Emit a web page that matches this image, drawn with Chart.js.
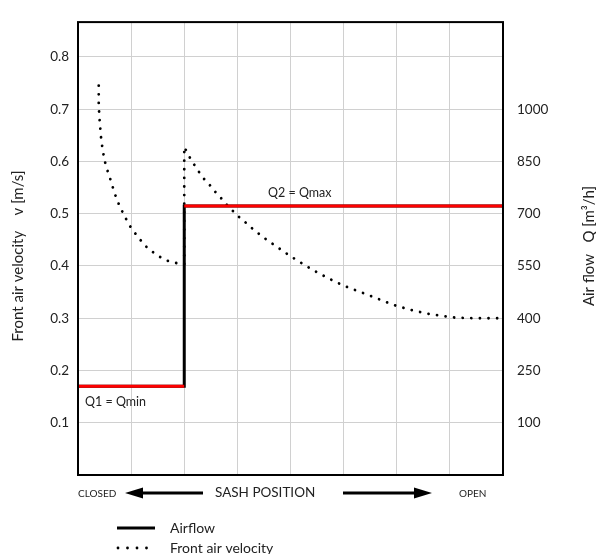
<!DOCTYPE html>
<html>
<head>
<meta charset="utf-8">
<script src="https://cdn.jsdelivr.net/npm/chart.js@4/dist/chart.umd.min.js"></script>
<style>
html,body{margin:0;padding:0;background:#fff;}
#wrap{width:596px;height:554px;position:relative;}
</style>
</head>
<body>
<div id="wrap"><canvas id="c" width="596" height="554"></canvas></div>
<script>
// Sash position scale (0 = closed, 8 = open)
const xTicks = [0,1,2,3,4,5,6,7,8];
// Left axis: front air velocity [m/s]
const velocityTicks = [0.1,0.2,0.3,0.4,0.5,0.6,0.7,0.8];
// Right axis: air flow [m3/h]
const airflowTicks = [100,250,400,550,700,850,1000];

// Front air velocity curve (sash position, v in m/s)
const velX = [0.39,0.39,0.40,0.41,0.44,0.49,0.53,0.58,0.63,0.68,0.74,0.81,0.88,0.96,1.05,1.15,1.26,1.39,1.53,1.68,1.83,1.95,2.0,2.0,
              2.09,2.18,2.27,2.37,2.48,2.59,2.70,2.81,2.92,3.05,3.18,3.30,3.50,3.71,3.98,4.20,4.41,4.70,5.01,5.50,5.95,6.30,6.61,7.11,7.50,7.98];
const velY = [0.745,0.707,0.690,0.674,0.639,0.607,0.590,0.575,0.559,0.542,0.525,0.509,0.495,0.479,0.466,0.453,0.439,0.428,0.418,0.410,0.406,0.404,0.403,0.628,
              0.610,0.595,0.581,0.567,0.555,0.541,0.529,0.516,0.505,0.492,0.481,0.470,0.454,0.439,0.420,0.406,0.393,0.377,0.362,0.343,0.325,0.315,0.308,0.301,0.300,0.300];

// Airflow step (sash position, Q in m3/h)
const flowX = [0,2,2,8];
const flowQ = [205,205,722,722];
// Q1 = Qmin and Q2 = Qmax levels
const q1X = [0,2], q1Q = [205,205];
const q2X = [2,8], q2Q = [722,722];

const FONT = 'Lato, "Liberation Sans", sans-serif';
const vMax = 0.8667;
const qOf = v => v*1500 - 50;

function pts(xs, ys){ return xs.map((x,i)=>({x:x, y:ys[i]})); }

const annot = {
  id:'annot',
  afterDraw(chart){
    const ctx = chart.ctx, a = chart.chartArea;
    ctx.save();
    // plot box
    ctx.strokeStyle = '#000'; ctx.lineWidth = 2;
    ctx.strokeRect(a.left, a.top, a.right-a.left, a.bottom-a.top);
    ctx.fillStyle = '#222';
    ctx.textBaseline = 'middle';
    // axis titles
    ctx.font = '15px ' + FONT;
    ctx.textAlign = 'center';
    ctx.save(); ctx.translate(18, 256); ctx.rotate(-Math.PI/2);
    ctx.fillText('Front air velocity    v [m/s]', 0, 0); ctx.restore();
    ctx.save(); ctx.translate(589, 246); ctx.rotate(-Math.PI/2);
    ctx.fillText('Air flow   Q [m\u00B3/h]', 0, 0); ctx.restore();
    // level labels
    ctx.textAlign = 'left';
    ctx.font = '12.5px ' + FONT;
    ctx.fillText('Q1 = Qmin', 85, 402);
    ctx.fillText('Q2 = Qmax', 268, 193);
    // sash position
    ctx.font = '10px ' + FONT;
    ctx.fillText('CLOSED', 78, 494);
    ctx.fillText('OPEN', 459, 494);
    ctx.font = '13.5px ' + FONT;
    ctx.fillText('SASH POSITION', 215, 493);
    // arrows
    ctx.fillStyle = '#000'; ctx.strokeStyle = '#000'; ctx.lineWidth = 3;
    ctx.beginPath(); ctx.moveTo(141,493); ctx.lineTo(203,493); ctx.stroke();
    ctx.beginPath(); ctx.moveTo(125,493); ctx.lineTo(143,487.5); ctx.lineTo(143,498.5); ctx.closePath(); ctx.fill();
    ctx.beginPath(); ctx.moveTo(343,493); ctx.lineTo(416,493); ctx.stroke();
    ctx.beginPath(); ctx.moveTo(432,493); ctx.lineTo(414,487.5); ctx.lineTo(414,498.5); ctx.closePath(); ctx.fill();
    // legend
    ctx.lineWidth = 3;
    ctx.beginPath(); ctx.moveTo(117,528); ctx.lineTo(155,528); ctx.stroke();
    for (let i=0;i<4;i++){ ctx.beginPath(); ctx.arc(118+i*9.5,548,1.4,0,Math.PI*2); ctx.fill(); }
    ctx.fillStyle = '#222';
    ctx.font = '14px ' + FONT;
    ctx.fillText('Airflow', 170, 528);
    ctx.fillText('Front air velocity', 170, 548);
    ctx.restore();
  }
};

new Chart(document.getElementById('c'), {
  type: 'scatter',
  data: {
    datasets: [
      { label:'Q1 = Qmin', data: pts(q1X,q1Q), yAxisID:'y2', showLine:true, borderColor:'#ff0000', borderWidth:3, pointRadius:0, order:0 },
      { label:'Q2 = Qmax', data: pts(q2X,q2Q), yAxisID:'y2', showLine:true, borderColor:'#ff0000', borderWidth:3, pointRadius:0, order:0 },
      { label:'Airflow', data: pts(flowX,flowQ), yAxisID:'y2', showLine:true, borderColor:'#000', borderWidth:3, pointRadius:0, order:1 },
      { label:'Front air velocity', data: pts(velX,velY), yAxisID:'y', showLine:true, borderColor:'#000', borderWidth:2.8,
        borderDash:[0.01,8.6], borderCapStyle:'round', pointRadius:0, tension:0, order:2 }
    ]
  },
  options: {
    responsive:false, animation:false,
    layout:{ padding:{ left:0, right:0, top:14, bottom:79 } },
    plugins:{ legend:{display:false}, tooltip:{enabled:false} },
    scales:{
      x:{ type:'linear', min:0, max:8,
          afterBuildTicks: s => { s.ticks = xTicks.map(v=>({value:v})); },
          afterFit: s => { s.height = 0; },
          ticks:{ display:false }, border:{display:false},
          grid:{ color:'#d0d0d0', lineWidth:1, drawTicks:false } },
      y:{ position:'left', min:0, max:vMax,
          afterBuildTicks: s => { s.ticks = velocityTicks.map(v=>({value:v})); },
          afterFit: s => { s.width = 78; },
          ticks:{ padding:9, color:'#222', font:{family:FONT, size:13.5}, callback:v=>v.toFixed(1) },
          border:{display:false},
          grid:{ color:'#d0d0d0', lineWidth:1, drawTicks:false } },
      y2:{ position:'right', min:qOf(0), max:qOf(vMax),
          afterBuildTicks: s => { s.ticks = airflowTicks.map(v=>({value:v})); },
          afterFit: s => { s.width = 93; },
          ticks:{ padding:14, color:'#222', font:{family:FONT, size:13.5}, callback:v=>String(v) },
          border:{display:false},
          grid:{ display:false, drawTicks:false } }
    }
  },
  plugins:[annot]
});
</script>
</body>
</html>
